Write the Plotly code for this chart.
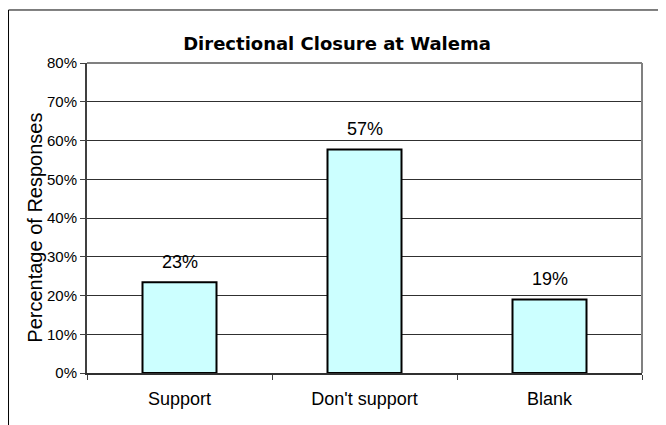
import plotly.graph_objects as go

categories = ["Support", "Don't support", "Blank"]
values = [0.234, 0.577, 0.190]
labels = ["23%", "57%", "19%"]
y_tick_vals = [0, 0.1, 0.2, 0.3, 0.4, 0.5, 0.6, 0.7, 0.8]
y_tick_text = ["0%", "10%", "20%", "30%", "40%", "50%", "60%", "70%", "80%"]
y_title = "Percentage of Responses"
chart_title = "Directional Closure at Walema"

FONT = "Liberation Sans, Arial, sans-serif"

fig = go.Figure()
fig.add_trace(go.Bar(
    x=categories, y=values, width=0.4,
    marker=dict(color="#CCFFFF", line=dict(color="#000000", width=2)),
    hoverinfo="skip", showlegend=False,
))

for c, v, t in zip(categories, values, labels):
    fig.add_annotation(x=c, y=v, text=t, showarrow=False, yanchor="bottom",
                       yshift=8, font=dict(family=FONT, size=18, color="#000000"))

# y axis title as rotated annotation
fig.add_annotation(xref="paper", yref="paper", x=-0.093, y=0.47, text=y_title,
                   textangle=-90, showarrow=False, xanchor="center", yanchor="middle",
                   font=dict(family=FONT, size=20, color="#000000"))

# plot area top/right border (gray)
fig.add_shape(type="line", xref="paper", yref="paper", x0=0, x1=1, y0=1, y1=1,
              line=dict(color="#808080", width=2), layer="above")
fig.add_shape(type="line", xref="paper", yref="paper", x0=1, x1=1, y0=0, y1=1,
              line=dict(color="#808080", width=2), layer="above")
# outer chart frame (clipped at right/bottom)
fig.add_shape(type="rect", xref="paper", yref="paper", x0=-0.1414, x1=1.3, y0=-0.4, y1=1.171,
              line=dict(color="#000000", width=1), layer="below")

fig.update_layout(
    width=658, height=417,
    margin=dict(l=79, r=24, t=55, b=52, autoexpand=False),
    paper_bgcolor="white", plot_bgcolor="white",
    font=dict(family=FONT, color="#000000"),
    title=dict(text="<b>" + chart_title + "</b>", x=0.5, xref="container",
               y=1 - 36 / 417, yref="container", xanchor="center", yanchor="middle",
               font=dict(family="DejaVu Sans, sans-serif", size=18, color="#000000")),
    bargap=0.6,
)
fig.update_xaxes(
    type="category", tickson="boundaries", ticks="outside", ticklen=5,
    tickcolor="#404040", showline=True, linecolor="#303030", linewidth=2,
    showgrid=False, tickfont=dict(family=FONT, size=18), ticklabelstandoff=8,
    fixedrange=True, automargin=False,
)
fig.update_yaxes(
    range=[0, 0.8], tickvals=y_tick_vals, ticktext=y_tick_text,
    ticks="outside", ticklen=5, tickcolor="#404040",
    showline=True, linecolor="#404040", linewidth=2,
    showgrid=True, gridcolor="#303030", gridwidth=1, zeroline=False,
    tickfont=dict(family=FONT, size=15), fixedrange=True, automargin=False,
)

fig.write_html("out.html")
